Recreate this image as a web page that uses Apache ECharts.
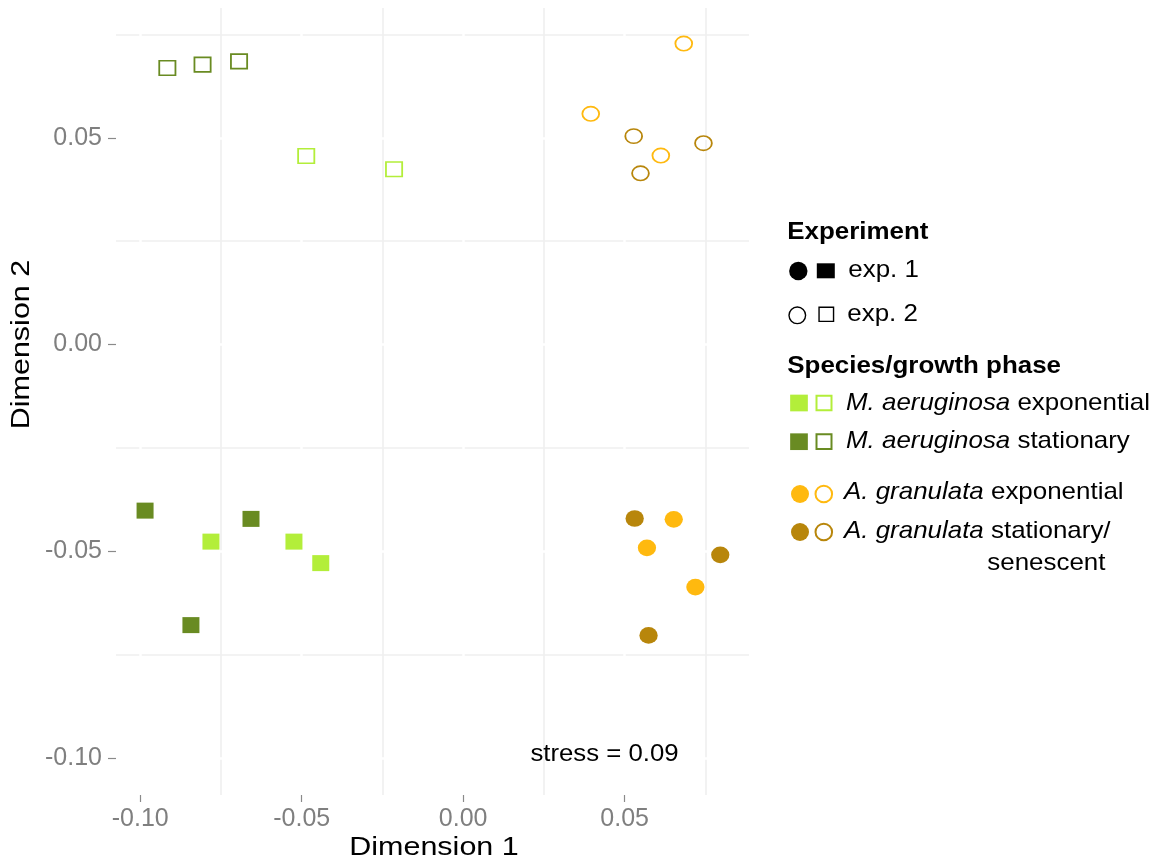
<!DOCTYPE html>
<html>
<head>
<meta charset="utf-8">
<script src="https://cdn.jsdelivr.net/npm/echarts@6/dist/echarts.min.js"></script>
<style>
  html, body { margin: 0; padding: 0; background: #ffffff; }
  #chart { width: 1157px; height: 865px; }
</style>
</head>
<body>
<div id="chart"></div>
<script>
// NMDS ordination: axis ticks and grid positions
const xTicks = [-0.10, -0.05, 0.00, 0.05];
const yTicks = [-0.10, -0.05, 0.00, 0.05];
const xMinorGrid = [-0.075, -0.025, 0.025, 0.075];
const yMinorGrid = [-0.075, -0.025, 0.025, 0.075];

// Microcystis aeruginosa, exponential phase (exp. 1 / exp. 2)
const maExpExp1 = [[-0.0781, -0.0477], [-0.0524, -0.0477], [-0.0441, -0.0529]];
const maExpExp2 = [[-0.0486, 0.0456], [-0.0214, 0.0424]];
// Microcystis aeruginosa, stationary phase
const maStatExp1 = [[-0.0985, -0.0402], [-0.0657, -0.0422], [-0.0843, -0.0679]];
const maStatExp2 = [[-0.0916, 0.0669], [-0.0807, 0.0677], [-0.0694, 0.0685]];
// Aulacoseira granulata, exponential phase
const agExpExp1 = [[0.0652, -0.0423], [0.0569, -0.0492], [0.0719, -0.0587]];
const agExpExp2 = [[0.0683, 0.0728], [0.0395, 0.0558], [0.0612, 0.0457]];
// Aulacoseira granulata, stationary/senescent phase
const agStatExp1 = [[0.0531, -0.0421], [0.0796, -0.0509], [0.0574, -0.0704]];
const agStatExp2 = [[0.0528, 0.0504], [0.0744, 0.0487], [0.0549, 0.0414]];

const stressValue = 0.09;

const C_MA_EXP = '#b3ee3a';
const C_MA_STAT = '#698b22';
const C_AG_EXP = '#ffb90f';
const C_AG_STAT = '#b8860b';

const FONT = "'Liberation Sans', Arial, Helvetica, sans-serif";
const ELLIPSE = 'path://M0,8A9,8,0,1,1,18,8A9,8,0,1,1,0,8Z';

function points(name, data, color, shape, filled) {
  const isSquare = shape === 'square';
  return {
    name: name,
    type: 'scatter',
    data: data,
    z: 3,
    symbol: isSquare ? 'rect' : ELLIPSE,
    symbolSize: isSquare ? (filled ? [17, 16] : [16.2, 14.5]) : (filled ? [18.3, 16.7] : [16.8, 14.4]),
    itemStyle: filled
      ? { color: color, borderWidth: 0, opacity: 1 }
      : { color: 'rgba(0,0,0,0)', borderColor: color, borderWidth: 1.7, opacity: 1 },
    emphasis: { disabled: true },
    silent: true
  };
}

// panel grid: light minor lines, white major lines crossing them
const gridSeries = {
  name: 'grid',
  type: 'scatter',
  data: [],
  z: 1,
  silent: true,
  markLine: {
    z: 1,
    silent: true,
    precision: 6,
    symbol: ['none', 'none'],
    label: { show: false },
    emphasis: { disabled: true },
    animation: false,
    data: [
      ...xMinorGrid.map(v => ({ xAxis: v, lineStyle: { color: '#efefef', width: 1.6, type: 'solid' } })),
      ...yMinorGrid.map(v => ({ yAxis: v, lineStyle: { color: '#efefef', width: 1.6, type: 'solid' } })),
      ...xTicks.map(v => ({ xAxis: v, lineStyle: { color: '#ffffff', width: 2.5, type: 'solid' } })),
      ...yTicks.map(v => ({ yAxis: v, lineStyle: { color: '#ffffff', width: 2.5, type: 'solid' } }))
    ]
  }
};

function legendText(x, y, text, opts) {
  opts = opts || {};
  return {
    type: 'text',
    x: x, y: y, z: 10,
    scaleX: opts.scaleX || 1.08,
    silent: true,
    style: {
      text: text,
      fill: '#000000',
      fontSize: opts.fontSize || 24,
      fontFamily: FONT,
      fontWeight: opts.bold ? 'bold' : 'normal',
      align: 'left',
      verticalAlign: 'middle',
      rich: {
        i: { fontStyle: 'italic', fontSize: opts.fontSize || 24, fontFamily: FONT, fill: '#000000' }
      }
    }
  };
}
function sq(cx, cy, w, h, color, filled, lw) {
  return {
    type: 'rect', silent: true, z: 10,
    shape: { x: cx - w / 2, y: cy - h / 2, width: w, height: h },
    style: filled ? { fill: color } : { fill: null, stroke: color, lineWidth: lw || 1.7 }
  };
}
function circ(cx, cy, r, color, filled, lw) {
  return {
    type: 'circle', silent: true, z: 10,
    shape: { cx: cx, cy: cy, r: r },
    style: filled ? { fill: color } : { fill: null, stroke: color, lineWidth: lw || 1.7 }
  };
}

const chart = echarts.init(document.getElementById('chart'), null, { renderer: 'canvas' });

chart.setOption({
  animation: false,
  backgroundColor: '#ffffff',
  grid: { left: 116, top: 8, width: 633, height: 787, containLabel: false },
  xAxis: {
    type: 'value',
    min: -0.1075, max: 0.0885,
    axisLine: { show: false, onZero: false },
    splitLine: { show: false },
    axisTick: { show: true, customValues: xTicks, length: 7, lineStyle: { color: '#8a8a8a', width: 1.2 } },
    axisLabel: {
      customValues: xTicks,
      margin: 12,
      color: '#7f7f7f',
      fontSize: 25,
      fontFamily: FONT,
      formatter: v => v.toFixed(2)
    }
  },
  yAxis: {
    type: 'value',
    min: -0.109, max: 0.0814,
    axisLine: { show: false, onZero: false },
    splitLine: { show: false },
    axisTick: { show: true, customValues: yTicks, length: 8, lineStyle: { color: '#8a8a8a', width: 1.2 } },
    axisLabel: {
      customValues: yTicks,
      margin: 14,
      color: '#7f7f7f',
      fontSize: 25,
      fontFamily: FONT,
      formatter: v => v.toFixed(2)
    }
  },
  series: [
    gridSeries,
    points('M. aeruginosa exponential, exp. 1', maExpExp1, C_MA_EXP, 'square', true),
    points('M. aeruginosa exponential, exp. 2', maExpExp2, C_MA_EXP, 'square', false),
    points('M. aeruginosa stationary, exp. 1', maStatExp1, C_MA_STAT, 'square', true),
    points('M. aeruginosa stationary, exp. 2', maStatExp2, C_MA_STAT, 'square', false),
    points('A. granulata exponential, exp. 1', agExpExp1, C_AG_EXP, 'circle', true),
    points('A. granulata exponential, exp. 2', agExpExp2, C_AG_EXP, 'circle', false),
    points('A. granulata stationary/senescent, exp. 1', agStatExp1, C_AG_STAT, 'circle', true),
    points('A. granulata stationary/senescent, exp. 2', agStatExp2, C_AG_STAT, 'circle', false)
  ],
  graphic: [
    // axis titles
    {
      type: 'text', x: 434, y: 848, z: 10, scaleX: 1.22, silent: true,
      style: { text: 'Dimension 1', fill: '#000000', fontSize: 25, fontFamily: FONT, align: 'center', verticalAlign: 'middle' }
    },
    {
      type: 'text', x: 22.5, y: 344.5, z: 10, scaleX: 1.22, rotation: Math.PI / 2, silent: true,
      style: { text: 'Dimension 2', fill: '#000000', fontSize: 25, fontFamily: FONT, align: 'center', verticalAlign: 'middle' }
    },
    // stress annotation
    {
      type: 'text', x: 604.5, y: 755, z: 10, scaleX: 1.12, silent: true,
      style: { text: 'stress = ' + stressValue.toFixed(2), fill: '#000000', fontSize: 23, fontFamily: FONT, align: 'center', verticalAlign: 'middle' }
    },
    // legend: experiment
    legendText(787.3, 232, 'Experiment', { bold: true }),
    circ(798.3, 271, 9.2, '#000000', true),
    sq(825.8, 270.8, 18, 15, '#000000', true),
    legendText(848.3, 270.5, 'exp. 1'),
    circ(797.3, 315.3, 8.3, '#000000', false, 1.4),
    sq(826.3, 314.3, 14.5, 14.2, '#000000', false, 1.4),
    legendText(847.3, 314, 'exp. 2'),
    // legend: species / growth phase
    legendText(787.3, 366, 'Species/growth phase', { bold: true }),
    sq(799, 403, 17.7, 16.7, C_MA_EXP, true),
    sq(824, 403, 15, 14.7, C_MA_EXP, false, 2),
    legendText(846, 403, '{i|M. aeruginosa} exponential'),
    sq(799, 441.7, 17.7, 16.7, C_MA_STAT, true),
    sq(824, 441.7, 15, 14.7, C_MA_STAT, false, 2),
    legendText(846, 441.7, '{i|M. aeruginosa} stationary'),
    circ(800, 494, 9, C_AG_EXP, true),
    circ(823.8, 494, 8.3, C_AG_EXP, false, 2),
    legendText(844, 492.5, '{i|A. granulata} exponential'),
    circ(800, 532, 9, C_AG_STAT, true),
    circ(823.8, 532, 8.3, C_AG_STAT, false, 2),
    legendText(844, 531.7, '{i|A. granulata} stationary/'),
    legendText(987.3, 563.5, 'senescent')
  ]
});
</script>
</body>
</html>
